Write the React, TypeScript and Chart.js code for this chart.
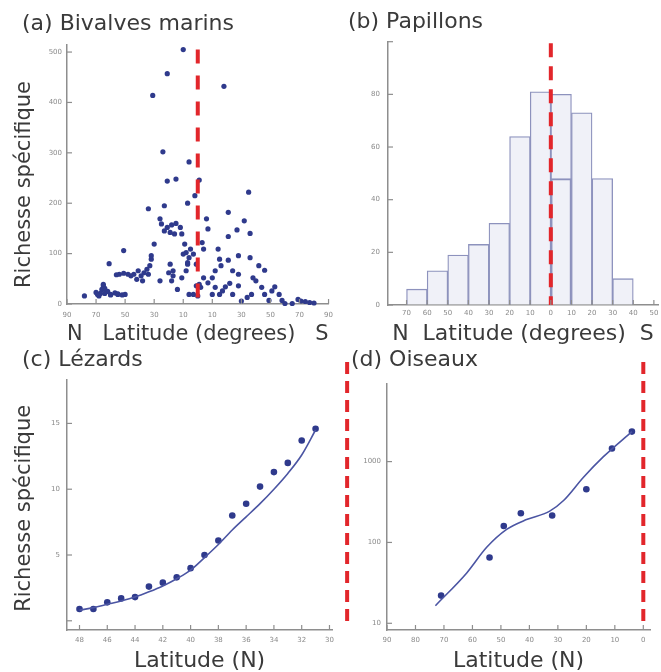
import React, { useEffect, useRef } from "react";
import { Chart, registerables } from "chart.js";

Chart.register(...registerables);

// ---------------- data ----------------
// (a) marine bivalves: latitude (north positive) and species richness
const bivalveLatitude = [
  10, 21, 31, -18, 24, 6, 21, 15, -1, 34, 23, 7, 2, -35, -21, 26, -6, -32, -27, -21,
  -7, -36, 25, 21, 18, 15, 12, 19, 16, 23, 11, 30, 9, -3, -14, 51, 61, 8, 6, 3,
  7, 1, 5, 10, -4, -15, -21, -28, -36, -42, -46, 32, 33, 35, 37, 39, 42, 44, 46, 48,
  51, 54, 56, 38, 34, 41, 26, 19, 17, 14, 18, 20, 6, 1, 11, 78, 70, 68, 66, 65,
  64, 62, 60, 57, 55, 52, 50, 67, 64, -4, -7, -10, -12, -15, -17, -19, -22, -24, -28, -30,
  -34, -37, -38, -40, -44, -46, -49, -51, -53, -56, -58, -60, -65, -69, -71, -74, -77, -80, -24, -28,
  -12, -16, -2, -10, 32, 17, 8, 7, -1, 0, 3, 69, 60, 65, 55,
];
const bivalveRichness = [
  505, 457, 414, 432, 302, 282, 244, 248, 246, 189, 195, 200, 215, 222, 182, 169, 169, 165, 147, 134,
  149, 140, 159, 152, 157, 160, 152, 142, 139, 145, 139, 119, 119, 122, 109, 106, 80, 102, 92, 99,
  82, 79, 109, 99, 109, 89, 87, 96, 92, 76, 67, 89, 76, 69, 62, 56, 49, 59, 56, 59,
  61, 59, 58, 46, 59, 66, 46, 79, 56, 29, 46, 62, 19, 36, 52, 16, 23, 16, 29, 36,
  21, 25, 19, 22, 19, 18, 19, 21, 31, 52, 42, 52, 33, 19, 26, 34, 41, 19, 36, 6,
  13, 19, 52, 46, 33, 19, 7, 26, 34, 19, 7, 1, 1, 9, 6, 5, 3, 2, 66, 59,
  66, 76, 33, 19, 96, 66, 66, 79, 39, 16, 19, 19, 18, 39, 20,
];

// (b) butterflies: 10-degree latitude bins (bin centre, north positive) and counts
const butterflyBinCentre = [65, 55, 45, 35, 25, 15, 5, -5, -15, -25, -35];
const butterflyCount = [6, 13, 19, 23, 31, 64, 81, 80, 73, 48, 10];
const butterflyInnerBinCentre = [-5];
const butterflyInnerCount = [48];

// (c) lizards
const lizardLatitude = [48, 47, 46, 45, 44, 43, 42, 41, 40, 39, 38, 37, 36, 35, 34, 33, 32, 31];
const lizardRichness = [0.9, 0.9, 1.4, 1.7, 1.8, 2.6, 2.9, 3.3, 4.0, 5.0, 6.1, 8.0, 8.9, 10.2, 11.3, 12.0, 13.7, 14.6];
const lizardFit = [0.8, 1.0, 1.25, 1.5, 1.8, 2.2, 2.65, 3.2, 3.85, 4.8, 5.8, 6.9, 7.9, 8.9, 10.0, 11.2, 12.6, 14.5];

// (d) birds
const birdLatitude = [71, 54, 49, 43, 32, 20, 11, 4];
const birdRichness = [22, 65, 160, 230, 215, 455, 1450, 2350];
const birdFitLatitude = [73, 62, 55, 48, 41, 33, 28, 21, 14, 4];
const birdFitRichness = [16.5, 42, 87, 145, 192, 242, 330, 640, 1150, 2350];

// tick values
const bivalveXTicks = [90, 70, 50, 30, 10, -10, -30, -50, -70, -90];
const bivalveYTicks = [0, 100, 200, 300, 400, 500];
const butterflyXTicks = [70, 60, 50, 40, 30, 20, 10, 0, -10, -20, -30, -40, -50];
const butterflyYTicks = [0, 20, 40, 60, 80, 100];
const lizardXTicks = [48, 46, 44, 42, 40, 38, 36, 34, 32, 30];
const lizardYTicks = [0, 5, 10, 15];
const birdXTicks = [90, 80, 70, 60, 50, 40, 30, 20, 10, 0];
const birdYTicks = [10, 100, 1000];

// ---------------- style ----------------
const FONT = "'DejaVu Sans', Verdana, sans-serif";
Chart.defaults.font.family = FONT;
const TEXT = "#3a3a3a";
const TICK_TEXT = "#8a8a8a";
const AXIS = "#8e8e8e";
const NAVY = "#2f3a8c";
const FIT = "#4b55a3";
const RED = "#e2262b";
const BAR_FILL = "#f0f1f8";
const BAR_EDGE = "#8d92bd";

type AxisSpec = {
  type?: string;
  min: number;
  max: number;
  reverse?: boolean;
  ticks: number[];
  hide?: number[];
  size: number;
  tickPad: number;
  title?: string;
  titleSize?: number;
  titlePad?: any;
};

function makeAxis(horizontal: boolean, s: AxisSpec) {
  return {
    type: s.type ?? "linear",
    min: s.min,
    max: s.max,
    reverse: !!s.reverse,
    bounds: "data",
    offset: false,
    afterBuildTicks: (scale: any) => {
      scale.ticks = s.ticks.map((value) => ({ value }));
    },
    afterFit: (scale: any) => {
      if (horizontal) scale.height = s.size;
      else scale.width = s.size;
    },
    ticks: {
      autoSkip: false,
      maxRotation: 0,
      minRotation: 0,
      padding: s.tickPad,
      color: TICK_TEXT,
      font: { size: 7 },
      callback: (v: number) => (s.hide && s.hide.includes(v) ? "" : String(Math.abs(v))),
    },
    grid: { display: true, drawOnChartArea: false, drawTicks: false, color: AXIS },
    border: { display: true, color: AXIS, width: 1.5 },
    title: s.title
      ? { display: true, text: s.title, color: TEXT, font: { size: s.titleSize ?? 22 }, padding: s.titlePad ?? 0 }
      : { display: false },
  };
}

function panelTitle(text: string, top: number, bottom: number) {
  return {
    display: true,
    text,
    align: "start",
    color: TEXT,
    font: { size: 22, weight: "normal" },
    padding: { top, bottom },
  };
}

// short tick marks pointing into the plot
const innerTicks = {
  id: "innerTicks",
  afterDraw(chart: any) {
    const ctx = chart.ctx;
    ctx.save();
    ctx.strokeStyle = AXIS;
    ctx.lineWidth = 1.2;
    for (const id of Object.keys(chart.scales)) {
      const s = chart.scales[id];
      s.ticks.forEach((_t: any, i: number) => {
        const p = s.getPixelForTick(i);
        ctx.beginPath();
        if (s.isHorizontal()) {
          ctx.moveTo(p, s.top);
          ctx.lineTo(p, s.top - 5);
        } else {
          ctx.moveTo(s.right, p);
          ctx.lineTo(s.right + 5, p);
        }
        ctx.stroke();
      });
    }
    ctx.restore();
  },
};

type RedLine = { x: number; yFrom: number; yTo: number; dash: number[] };
function equatorLines(lines: RedLine[]) {
  return {
    id: "equatorLines",
    afterDatasetsDraw(chart: any) {
      const { ctx } = chart;
      const x = chart.scales.x;
      const y = chart.scales.y;
      ctx.save();
      ctx.strokeStyle = RED;
      ctx.lineWidth = 4;
      for (const l of lines) {
        const px = x.getPixelForValue(l.x);
        ctx.setLineDash(l.dash);
        ctx.beginPath();
        ctx.moveTo(px, y.getPixelForValue(l.yFrom));
        ctx.lineTo(px, y.getPixelForValue(l.yTo));
        ctx.stroke();
      }
      ctx.restore();
    },
  };
}

const basePlugins = (title: any) => ({
  legend: { display: false },
  tooltip: { enabled: false },
  title,
});

function configA(): any {
  return {
    type: "scatter",
    data: {
      datasets: [
        {
          data: bivalveLatitude.map((x, i) => ({ x, y: bivalveRichness[i] })),
          pointRadius: 2.6,
          pointBackgroundColor: NAVY,
          pointBorderColor: NAVY,
          pointBorderWidth: 0,
          showLine: false,
          clip: false,
        },
      ],
    },
    options: {
      responsive: false,
      animation: false,
      layout: { padding: { left: 22, right: 7, top: 0, bottom: 0 } },
      plugins: basePlugins(panelTitle("(a) Bivalves marins", 11, 7.6)),
      scales: {
        x: makeAxis(true, {
          min: -90, max: 90, reverse: true, ticks: bivalveXTicks, size: 43, tickPad: 7,
          title: "N   Latitude (degrees)   S",
        }),
        y: makeAxis(false, {
          min: 0, max: 514, ticks: bivalveYTicks, size: 45, tickPad: 5,
          title: "Richesse spécifique   ", titleSize: 21, titlePad: { top: -9.6 },
        }),
      },
    },
    plugins: [innerTicks, equatorLines([{ x: 0, yFrom: 505, yTo: 0, dash: [14, 12] }])],
  };
}

function configB(): any {
  return {
    type: "bar",
    data: {
      datasets: [
        {
          data: butterflyBinCentre.map((x, i) => ({ x, y: butterflyCount[i] })),
          backgroundColor: BAR_FILL,
          borderColor: BAR_EDGE,
          borderWidth: 1.3,
          barPercentage: 1,
          categoryPercentage: 1,
          grouped: false,
          order: 2,
        },
        {
          data: butterflyInnerBinCentre.map((x, i) => ({ x, y: butterflyInnerCount[i] })),
          backgroundColor: "rgba(0,0,0,0)",
          borderColor: BAR_EDGE,
          borderWidth: 1.3,
          barPercentage: 1,
          categoryPercentage: 1,
          grouped: false,
          order: 1,
        },
      ],
    },
    options: {
      responsive: false,
      animation: false,
      layout: { padding: { left: 18, right: 8, top: 0, bottom: 0 } },
      plugins: basePlugins(panelTitle("(b) Papillons", 8.8, 6.5)),
      scales: {
        x: makeAxis(true, {
          min: -52, max: 79, reverse: true, ticks: butterflyXTicks, size: 42, tickPad: 4,
          title: "N  Latitude (degrees)  S",
        }),
        y: makeAxis(false, {
          min: 0, max: 100, ticks: butterflyYTicks, hide: [100], size: 40, tickPad: 8,
        }),
      },
    },
    plugins: [innerTicks, equatorLines([{ x: 0, yFrom: 99.4, yTo: 0, dash: [14, 9] }])],
  };
}

function configC(): any {
  return {
    type: "scatter",
    data: {
      datasets: [
        {
          data: lizardLatitude.map((x, i) => ({ x, y: lizardFit[i] })),
          showLine: true,
          borderColor: FIT,
          borderWidth: 1.6,
          pointRadius: 0,
          tension: 0.4,
          cubicInterpolationMode: "monotone",
        },
        {
          data: lizardLatitude.map((x, i) => ({ x, y: lizardRichness[i] })),
          showLine: false,
          pointRadius: 3.3,
          pointBackgroundColor: NAVY,
          pointBorderColor: NAVY,
          pointBorderWidth: 0,
        },
      ],
    },
    options: {
      responsive: false,
      animation: false,
      layout: { padding: { left: 22, right: 7, top: 0, bottom: 0 } },
      plugins: basePlugins(panelTitle("(c) Lézards", 6.8, 6.8)),
      scales: {
        x: makeAxis(true, {
          min: 29.8, max: 48.9, reverse: true, ticks: lizardXTicks, size: 42, tickPad: 6,
          title: "Latitude (N)", titlePad: { bottom: -2 },
        }),
        y: makeAxis(false, {
          min: -0.7, max: 18.3, ticks: lizardYTicks, hide: [0], size: 45, tickPad: 7,
          title: "Richesse spécifique ", titleSize: 21, titlePad: { top: -9.6 },
        }),
      },
    },
    plugins: [innerTicks],
  };
}

function configD(): any {
  return {
    type: "scatter",
    data: {
      datasets: [
        {
          data: birdFitLatitude.map((x, i) => ({ x, y: birdFitRichness[i] })),
          showLine: true,
          borderColor: FIT,
          borderWidth: 1.6,
          pointRadius: 0,
          tension: 0.4,
          cubicInterpolationMode: "monotone",
        },
        {
          data: birdLatitude.map((x, i) => ({ x, y: birdRichness[i] })),
          showLine: false,
          pointRadius: 3.3,
          pointBackgroundColor: NAVY,
          pointBorderColor: NAVY,
          pointBorderWidth: 0,
        },
      ],
    },
    options: {
      responsive: false,
      animation: false,
      layout: { padding: { left: 16, right: 16, top: 0, bottom: 0 } },
      plugins: basePlugins(panelTitle("(d) Oiseaux", 6.8, 10.1)),
      scales: {
        x: makeAxis(true, {
          min: -2.35, max: 90, reverse: true, ticks: birdXTicks, size: 42, tickPad: 6,
          title: "Latitude (N)", titlePad: { bottom: -2 },
        }),
        y: makeAxis(false, {
          type: "logarithmic", min: 8.26, max: 9300, ticks: birdYTicks, size: 36, tickPad: 6,
        }),
      },
    },
    plugins: [
      innerTicks,
      equatorLines([
        { x: 0, yFrom: 17000, yTo: 9, dash: [12, 7] },
        { x: 104, yFrom: 17000, yTo: 9, dash: [12, 7] },
      ]),
    ],
  };
}

function Panel(props: { left: number; top: number; width: number; height: number; make: () => any }) {
  const ref = useRef<HTMLCanvasElement>(null);
  useEffect(() => {
    const chart = new Chart(ref.current as HTMLCanvasElement, props.make());
    return () => chart.destroy();
  }, []);
  return (
    <canvas
      ref={ref}
      width={props.width}
      height={props.height}
      style={{ position: "absolute", left: props.left, top: props.top, width: props.width, height: props.height }}
    />
  );
}

export default function App() {
  return (
    <div
      style={{
        position: "absolute",
        left: 0,
        top: 0,
        width: 661,
        height: 672,
        overflow: "hidden",
        background: "#ffffff",
      }}
    >
      <Panel left={0} top={0} width={340} height={347} make={configA} />
      <Panel left={330} top={0} width={336} height={347} make={configB} />
      <Panel left={0} top={340} width={340} height={332} make={configC} />
      <Panel left={335} top={340} width={331} height={332} make={configD} />
    </div>
  );
}
